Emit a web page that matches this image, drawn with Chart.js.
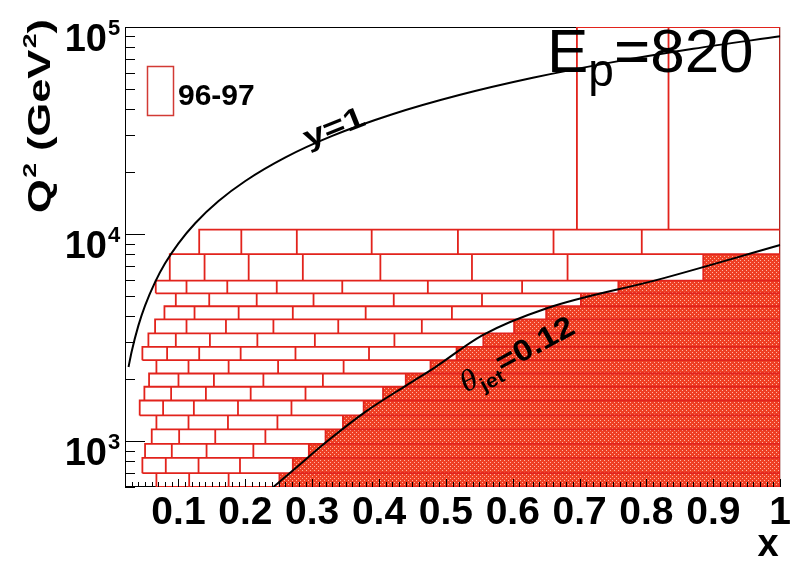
<!DOCTYPE html>
<html>
<head>
<meta charset="utf-8">
<script src="https://cdn.jsdelivr.net/npm/chart.js@4.4.1/dist/chart.umd.min.js"></script>
<style>
body{margin:0;background:#fff}
canvas{display:block}
</style>
</head>
<body>
<canvas id="Chart1HTML" width="794" height="562"></canvas>
<script>
let Chart1

// Q2 row edges (GeV^2), bottom to top
const Q2Edges=[600,700,830,970,1140,1330,1570,1830,2120,2460,2850,3310,3870,4480,5170,5960,8000,10500,100000]
// x edges of the open bins in each Q2 row (bottom to top); the rest of a row up to x=1 is the shaded part
const XEdges=[
[0.067,0.116,0.175,0.251],
[0.046,0.081,0.130,0.192,0.271],
[0.050,0.090,0.142,0.212,0.295],
[0.060,0.101,0.155,0.230,0.320],
[0.067,0.115,0.174,0.248,0.346],
[0.042,0.077,0.123,0.189,0.269,0.377],
[0.049,0.089,0.141,0.208,0.290,0.406],
[0.056,0.100,0.153,0.227,0.316,0.440],
[0.067,0.115,0.175,0.249,0.347,0.477],
[0.046,0.083,0.131,0.193,0.275,0.385,0.516],
[0.055,0.096,0.147,0.218,0.304,0.423,0.556],
[0.065,0.112,0.171,0.242,0.339,0.464,0.602],
[0.079,0.124,0.190,0.271,0.380,0.509,0.650],
[0.096,0.146,0.217,0.302,0.422,0.554,0.702],
[0.066,0.112,0.173,0.247,0.345,0.473,0.614,0.758],
[0.087,0.139,0.205,0.286,0.402,0.539,0.682,0.885],
[0.131,0.194,0.277,0.389,0.518,0.661,0.793,1.0],
[0.696,0.833,1.0]
]
// y=1 kinematic limit
const YOneX=[0.0253,0.03,0.04,0.05,0.065,0.08,0.1,0.125,0.16,0.2,0.26,0.33,0.42,0.52,0.63,0.75,0.87,1.0]
const YOneQ2=[2280,2710,3610,4510,5860,7220,9020,11280,14430,18040,23450,29770,37880,46900,56830,67650,78470,90200]
// theta_jet = 0.12 line
const ThetaX=[0.242,0.271,0.321,0.379,0.441,0.481,0.555,0.650,0.819,1.0]
const ThetaQ2=[600,721,989,1380,1859,2239,3250,4370,6040,8850]

const XMIN=0.02,XMAX=1.0,YMIN=600,YMAX=100000
const XTicks=[0.1,0.2,0.3,0.4,0.5,0.6,0.7,0.8,0.9,1.0]
const XTickLabels=['0.1','0.2','0.3','0.4','0.5','0.6','0.7','0.8','0.9','1']
const YTicks=[1000,10000,100000]
const YTickExp=['3','4','5']

const RED='#e2231c'

//								BUILD DATA
let Outline=[],Shade=[]
function AddBox(x0,x1,q0,q1){
Outline.push({x:x0,y:q0},{x:x1,y:q0},{x:x1,y:q1},{x:x0,y:q1},{x:x0,y:q0},{x:x0,y:null})
}
for(let i=0;i<XEdges.length;i++){
	let E=XEdges[i],q0=Q2Edges[i],q1=Q2Edges[i+1]
	for(let j=0;j<E.length-1;j++){AddBox(E[j],E[j+1],q0,q1)}
	let last=E[E.length-1]
	if(last<XMAX){
		AddBox(last,XMAX,q0,q1)
		Shade.push({x:last,y:q0},{x:last,y:q1})
	}
}
Shade.push({x:XMAX,y:Shade[Shade.length-1].y})

function Pts(X,Y){return X.map((v,i)=>({x:v,y:Y[i]}))}

function MakePattern(){
	let c=document.createElement('canvas');c.width=4;c.height=4
	let g=c.getContext('2d')
	g.fillStyle='#ee3f24';g.fillRect(0,0,4,4)
	g.fillStyle='#ffb4a4';g.fillRect(0,0,1,1);g.fillRect(2,2,1,1)
	return document.getElementById('Chart1HTML').getContext('2d').createPattern(c,'repeat')
}

//								DECOR
function Txt(ctx,s,x,y,font,align){
ctx.font=font;ctx.textAlign=align||'left';ctx.fillText(s,x,y);return ctx.measureText(s).width
}

const Decor={
id:'decor',
beforeDatasetsDraw(chart){
	let ctx=chart.ctx,a=chart.chartArea
	ctx.save();ctx.strokeStyle='#000';ctx.lineWidth=1
	ctx.strokeRect(a.left+0.5,a.top+0.5,a.right-a.left-1,a.bottom-a.top-1)
	ctx.restore()
},
afterDatasetsDraw(chart){
	let ctx=chart.ctx,a=chart.chartArea,xs=chart.scales.x,ys=chart.scales.y
	ctx.save()
	ctx.strokeStyle='#000';ctx.lineWidth=1;ctx.fillStyle='#000';ctx.textBaseline='alphabetic'
	// y ticks (log) drawn inside the frame
	ctx.beginPath()
	for(let d=100;d<=10000;d*=10){
		for(let m=1;m<10;m++){
			let v=m*d
			if(v<YMIN||v>YMAX)continue
			let py=Math.round(ys.getPixelForValue(v))+0.5
			let len=(m==1)?20:10
			ctx.moveTo(a.left,py);ctx.lineTo(a.left+len,py)
		}
	}
	// x ticks
	for(let k=2;k<=100;k++){
		let px=Math.round(xs.getPixelForValue(k/100))+0.5
		let len=(k%10==0)?8:5
		ctx.moveTo(px,a.bottom);ctx.lineTo(px,a.bottom-len)
	}
	ctx.stroke()
	// y tick labels with exponents
	YTicks.forEach((v,i)=>{
		let py=ys.getPixelForValue(v)
		Txt(ctx,'10',107,py+24,'bold 38px "Liberation Sans",Arial','right')
		Txt(ctx,YTickExp[i],108,py+8,'bold 22px "Liberation Sans",Arial','left')
	})
	// y axis title
	ctx.save();ctx.translate(50,213);ctx.rotate(-Math.PI/2);ctx.scale(1.4,1)
	let w=0
	w+=Txt(ctx,'Q',w,0,'bold 31px "Liberation Sans",Arial')
	w+=Txt(ctx,'2',w+1,-14,'bold 19px "Liberation Sans",Arial')+1
	w+=Txt(ctx,' (GeV',w,0,'bold 31px "Liberation Sans",Arial')
	w+=Txt(ctx,'2',w+1,-14,'bold 19px "Liberation Sans",Arial')+1
	Txt(ctx,')',w,0,'bold 31px "Liberation Sans",Arial')
	ctx.restore()
	// x axis title
	Txt(ctx,'x',768,556,'bold 38px "Liberation Sans",Arial','center')
	// legend
	ctx.strokeStyle='#d23a34';ctx.lineWidth=1.5
	ctx.strokeRect(147.5,66.5,26,49)
	Txt(ctx,'96-97',178,105,'bold 30px "Liberation Sans",Arial')
	// E_p=820
	w=547
	w+=Txt(ctx,'E',w,72,'62px "Liberation Sans",Arial')
	w+=Txt(ctx,'p',w,86,'46px "Liberation Sans",Arial')
	Txt(ctx,'=820',w,72,'62px "Liberation Sans",Arial')
	// curve labels
	ctx.save();ctx.translate(308,148);ctx.rotate(-0.38);ctx.scale(1.25,1)
	Txt(ctx,'y=1',0,0,'bold 30px "Liberation Sans",Arial')
	ctx.restore()
	ctx.save();ctx.translate(466,393);ctx.rotate(-0.5);ctx.scale(1.12,1)
	w=0
	w+=Txt(ctx,'\u03b8',w,0,'italic 30px "Liberation Serif",serif')
	w+=Txt(ctx,'jet',w,8,'bold 19px "Liberation Sans",Arial')
	Txt(ctx,'=0.12',w,0,'bold 30px "Liberation Sans",Arial')
	ctx.restore()
	ctx.restore()
}
}

//								CHART
function LoadC1(){
Chart1=new Chart(
document.getElementById('Chart1HTML'),
{
type:'line',
data:{
datasets:[
{data:Shade,fill:'start',backgroundColor:MakePattern(),borderWidth:0,pointRadius:0,order:3},
{data:Outline,borderColor:RED,borderWidth:1.8,pointRadius:0,fill:false,spanGaps:false,order:2},
{data:Pts(YOneX,YOneQ2),borderColor:'#000',borderWidth:2,pointRadius:0,fill:false,cubicInterpolationMode:'monotone',order:1},
{data:Pts(ThetaX,ThetaQ2),borderColor:'#000',borderWidth:2,pointRadius:0,fill:false,cubicInterpolationMode:'monotone',order:1}
]
},
options:{
responsive:false,
animation:false,
layout:{padding:{left:0,right:13,top:27,bottom:0}},
plugins:{legend:{display:false},tooltip:{enabled:false}},
scales:{
x:{
type:'linear',min:XMIN,max:XMAX,
afterFit(s){s.height=75},
afterBuildTicks(s){s.ticks=XTicks.map(v=>({value:v}))},
grid:{display:false,drawTicks:false},
border:{display:false},
ticks:{
autoSkip:false,maxRotation:0,minRotation:0,padding:3,color:'#000',
font:{family:'"Liberation Sans Narrow","Liberation Sans",Arial',size:39,weight:'bold'},
callback:(v,i)=>XTickLabels[i]
}
},
y:{
type:'logarithmic',min:YMIN,max:YMAX,
afterFit(s){s.width=125},
grid:{display:false,drawTicks:false},
border:{display:false},
ticks:{display:false}
}
}
},
plugins:[Decor]
}
)
}
LoadC1()
</script>
</body>
</html>
